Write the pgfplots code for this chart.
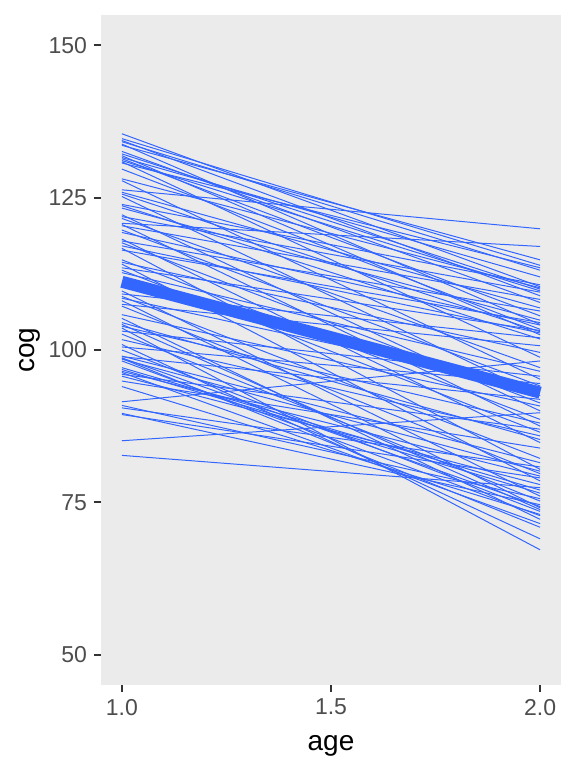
\documentclass[border=0pt]{standalone}
\usepackage{pgfplots}
\pgfplotsset{compat=1.18}
\usepackage{fontspec}
\setmainfont{Liberation Sans}
\definecolor{panelbg}{HTML}{EBEBEB}
\definecolor{lineblue}{HTML}{3366FF}
\definecolor{tickgrey}{HTML}{333333}
\definecolor{labgrey}{HTML}{4D4D4D}
\begin{document}
\begin{tikzpicture}
\useasboundingbox (0,0) rectangle (288pt,384pt);
\begin{axis}[
  at={(50.5pt,41.5pt)}, anchor=south west,
  scale only axis, width=230pt, height=335pt,
  xmin=0.95, xmax=2.05, ymin=45, ymax=155,
  xtick={1,1.5,2}, xticklabels={1.0,1.5,2.0},
  ytick={50,75,100,125,150},
  axis line style={draw=none},
  axis background/.style={fill=panelbg},
  tick align=outside, major tick length=3.5pt,
  tick pos=left,
  tick style={color=tickgrey, line width=1pt},
  ticklabel style={font=\fontsize{11.5}{13}\selectfont, text=labgrey},
  /pgf/number format/assume math mode=true,
  xlabel={age}, ylabel={cog},
  label style={font=\fontsize{14}{16}\selectfont},
  xlabel style={at={(axis description cs:0.5,0)}, anchor=base, yshift=-32.5pt},
  ylabel style={at={(axis description cs:0,0.5)}, anchor=base, yshift=33pt},
  ind/.style={lineblue, line width=0.5pt, solid, no marks},
  clip=true,
]
\addplot[ind] coordinates {(1,135.5)(2,110.4)};
\addplot[ind] coordinates {(1,134.7)(2,113.9)};
\addplot[ind] coordinates {(1,134.4)(2,108.9)};
\addplot[ind] coordinates {(1,134.2)(2,113.1)};
\addplot[ind] coordinates {(1,133.8)(2,104.2)};
\addplot[ind] coordinates {(1,133.6)(2,114.8)};
\addplot[ind] coordinates {(1,132.6)(2,107.8)};
\addplot[ind] coordinates {(1,132.2)(2,110.0)};
\addplot[ind] coordinates {(1,131.9)(2,102.5)};
\addplot[ind] coordinates {(1,131.6)(2,112.0)};
\addplot[ind] coordinates {(1,131.4)(2,105.6)};
\addplot[ind] coordinates {(1,131.1)(2,109.7)};
\addplot[ind] coordinates {(1,130.9)(2,98.8)};
\addplot[ind] coordinates {(1,130.7)(2,113.5)};
\addplot[ind] coordinates {(1,129.7)(2,103.4)};
\addplot[ind] coordinates {(1,128.1)(2,110.2)};
\addplot[ind] coordinates {(1,127.8)(2,95.2)};
\addplot[ind] coordinates {(1,126.3)(2,119.9)};
\addplot[ind] coordinates {(1,125.9)(2,106.9)};
\addplot[ind] coordinates {(1,125.6)(2,103.0)};
\addplot[ind] coordinates {(1,125.2)(2,92.5)};
\addplot[ind] coordinates {(1,123.9)(2,110.7)};
\addplot[ind] coordinates {(1,123.7)(2,101.8)};
\addplot[ind] coordinates {(1,123.3)(2,104.9)};
\addplot[ind] coordinates {(1,122.2)(2,90.0)};
\addplot[ind] coordinates {(1,121.9)(2,109.5)};
\addplot[ind] coordinates {(1,121.6)(2,97.1)};
\addplot[ind] coordinates {(1,120.8)(2,117.0)};
\addplot[ind] coordinates {(1,120.6)(2,87.5)};
\addplot[ind] coordinates {(1,120.4)(2,108.3)};
\addplot[ind] coordinates {(1,119.7)(2,94.1)};
\addplot[ind] coordinates {(1,119.3)(2,104.1)};
\addplot[ind] coordinates {(1,118.2)(2,84.8)};
\addplot[ind] coordinates {(1,117.9)(2,106.4)};
\addplot[ind] coordinates {(1,117.6)(2,91.3)};
\addplot[ind] coordinates {(1,117.1)(2,102.8)};
\addplot[ind] coordinates {(1,116.7)(2,80.4)};
\addplot[ind] coordinates {(1,116.4)(2,104.5)};
\addplot[ind] coordinates {(1,114.8)(2,88.6)};
\addplot[ind] coordinates {(1,114.4)(2,99.6)};
\addplot[ind] coordinates {(1,114.1)(2,78.5)};
\addplot[ind] coordinates {(1,113.5)(2,103.2)};
\addplot[ind] coordinates {(1,113.1)(2,86.5)};
\addplot[ind] coordinates {(1,112.7)(2,96.5)};
\addplot[ind] coordinates {(1,109.7)(2,76.0)};
\addplot[ind] coordinates {(1,109.2)(2,102.0)};
\addplot[ind] coordinates {(1,108.8)(2,82.2)};
\addplot[ind] coordinates {(1,108.5)(2,93.6)};
\addplot[ind] coordinates {(1,108.1)(2,74.1)};
\addplot[ind] coordinates {(1,107.5)(2,100.7)};
\addplot[ind] coordinates {(1,107.2)(2,79.7)};
\addplot[ind] coordinates {(1,105.8)(2,90.8)};
\addplot[ind] coordinates {(1,105.2)(2,72.2)};
\addplot[ind] coordinates {(1,104.5)(2,85.3)};
\addplot[ind] coordinates {(1,104.2)(2,73.8)};
\addplot[ind] coordinates {(1,103.9)(2,88.0)};
\addplot[ind] coordinates {(1,103.6)(2,67.2)};
\addplot[ind] coordinates {(1,103.1)(2,95.7)};
\addplot[ind] coordinates {(1,102.6)(2,75.2)};
\addplot[ind] coordinates {(1,101.7)(2,85.9)};
\addplot[ind] coordinates {(1,100.9)(2,69.0)};
\addplot[ind] coordinates {(1,100.5)(2,94.5)};
\addplot[ind] coordinates {(1,100.0)(2,73.5)};
\addplot[ind] coordinates {(1,99.0)(2,81.5)};
\addplot[ind] coordinates {(1,98.6)(2,70.9)};
\addplot[ind] coordinates {(1,98.9)(2,91.9)};
\addplot[ind] coordinates {(1,98.7)(2,74.3)};
\addplot[ind] coordinates {(1,98.5)(2,80.1)};
\addplot[ind] coordinates {(1,98.2)(2,72.8)};
\addplot[ind] coordinates {(1,97.1)(2,77.0)};
\addplot[ind] coordinates {(1,96.8)(2,76.5)};
\addplot[ind] coordinates {(1,96.5)(2,79.3)};
\addplot[ind] coordinates {(1,96.3)(2,71.5)};
\addplot[ind] coordinates {(1,96.0)(2,87.0)};
\addplot[ind] coordinates {(1,95.7)(2,77.9)};
\addplot[ind] coordinates {(1,94.9)(2,83.9)};
\addplot[ind] coordinates {(1,94.0)(2,73.0)};
\addplot[ind] coordinates {(1,91.5)(2,98.2)};
\addplot[ind] coordinates {(1,90.9)(2,75.6)};
\addplot[ind] coordinates {(1,90.5)(2,80.8)};
\addplot[ind] coordinates {(1,89.6)(2,74.6)};
\addplot[ind] coordinates {(1,89.4)(2,79.0)};
\addplot[ind] coordinates {(1,85.1)(2,89.7)};
\addplot[ind] coordinates {(1,82.7)(2,77.4)};
% mean trend
\addplot[lineblue, line width=6pt, solid, no marks] coordinates {(1,111.2)(2,93.0)};
\end{axis}
\end{tikzpicture}
\end{document}
